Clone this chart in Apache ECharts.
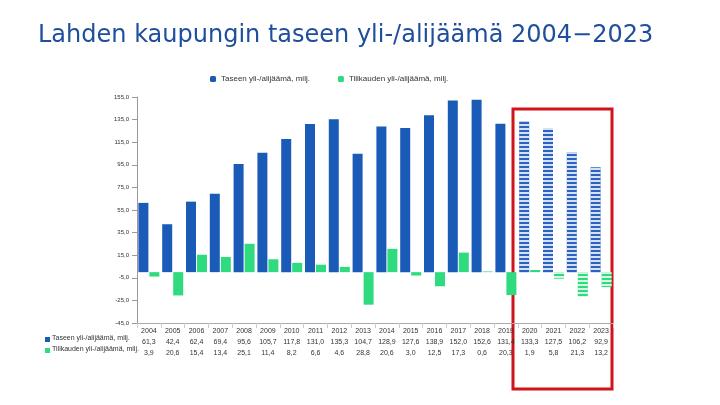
<!DOCTYPE html><html><head><meta charset="utf-8">
<script src="https://cdn.jsdelivr.net/npm/echarts@6/dist/echarts.min.js"></script>
<style>body{margin:0;background:#fff}#c{width:720px;height:405px}</style></head><body><div id="c"></div>
<script>
const years=['2004','2005','2006','2007','2008','2009','2010','2011','2012','2013','2014','2015','2016','2017','2018','2019','2020','2021','2022','2023'];
const taseen=[61.3,42.4,62.4,69.4,95.6,105.7,117.8,131.0,135.3,104.7,128.9,127.6,138.9,152.0,152.6,131.4,133.3,127.5,106.2,92.9];
const tilikausi=[-3.9,-20.6,15.4,13.4,25.1,11.4,8.2,6.6,4.6,-28.8,20.6,-3.0,-12.5,17.3,0.6,-20.3,1.9,-5.8,-21.3,-13.2];
const forecastFrom=16;
const fmt=v=>Math.abs(v).toFixed(1).replace('.',',');
const chart=echarts.init(document.getElementById('c'));
const stripe={symbol:'rect',dashArrayX:[1,0],dashArrayY:[2,2],rotation:0,color:'rgba(255,255,255,0.8)'};
chart.setOption({
 animation:false,
 title:{text:'Lahden kaupungin taseen yli-/alijäämä 2004−2023',left:33,top:19,textStyle:{color:'#1F4E9C',fontSize:24,fontWeight:'normal',fontFamily:'DejaVu Sans'}},
 legend:{top:70,left:205,itemWidth:6,itemHeight:6,itemGap:28,textStyle:{fontSize:8,color:'#333'},data:['Taseen yli-/alijäämä, milj.','Tilikauden yli-/alijäämä, milj.']},
 grid:{left:137,right:107,top:97,bottom:82},
 xAxis:{type:'category',data:years,axisLine:{onZero:false,lineStyle:{color:'#aaa'}},axisTick:{show:true,interval:0,lineStyle:{color:'#ccc'}},
  axisLabel:{interval:0,margin:3,formatter:(v,i)=>`{y|${v}}\n{v|${fmt(taseen[i])}}\n{v|${fmt(tilikausi[i])}}`,
   rich:{y:{fontSize:7,color:'#333',lineHeight:11},v:{fontSize:7,color:'#333',lineHeight:11}}}},
 yAxis:{type:'value',min:-45,max:155,interval:20,axisLine:{show:true,lineStyle:{color:'#999'}},axisTick:{show:true},splitLine:{show:false},
  axisLabel:{fontSize:6,color:'#333',formatter:v=>v.toFixed(1).replace('.',',')}},
 series:[
  {name:'Taseen yli-/alijäämä, milj.',type:'bar',barWidth:10,barGap:'10%',itemStyle:{color:'#1A5BB8'},
   data:taseen.map((v,i)=>i>=forecastFrom?{value:v,itemStyle:{color:'#2D63C0',decal:stripe}}:v)},
  {name:'Tilikauden yli-/alijäämä, milj.',type:'bar',barWidth:10,itemStyle:{color:'#2EDB7E'},
   data:tilikausi.map((v,i)=>i>=forecastFrom?{value:v,itemStyle:{color:'#2EDB7E',decal:stripe}}:v)}
 ],
 graphic:[
  {type:'rect',shape:{x:513,y:109,width:99,height:280},style:{fill:'none',stroke:'#D0141B',lineWidth:3}},
  {type:'rect',shape:{x:45,y:337,width:5,height:5},style:{fill:'#1A5BB8'}},
  {type:'text',left:52,top:335,style:{text:'Taseen yli-/alijäämä, milj.',fontSize:7,fill:'#333'}},
  {type:'rect',shape:{x:45,y:348,width:5,height:5},style:{fill:'#2EDB7E'}},
  {type:'text',left:52,top:346,style:{text:'Tilikauden yli-/alijäämä, milj.',fontSize:7,fill:'#333'}}
 ]
});
</script></body></html>
